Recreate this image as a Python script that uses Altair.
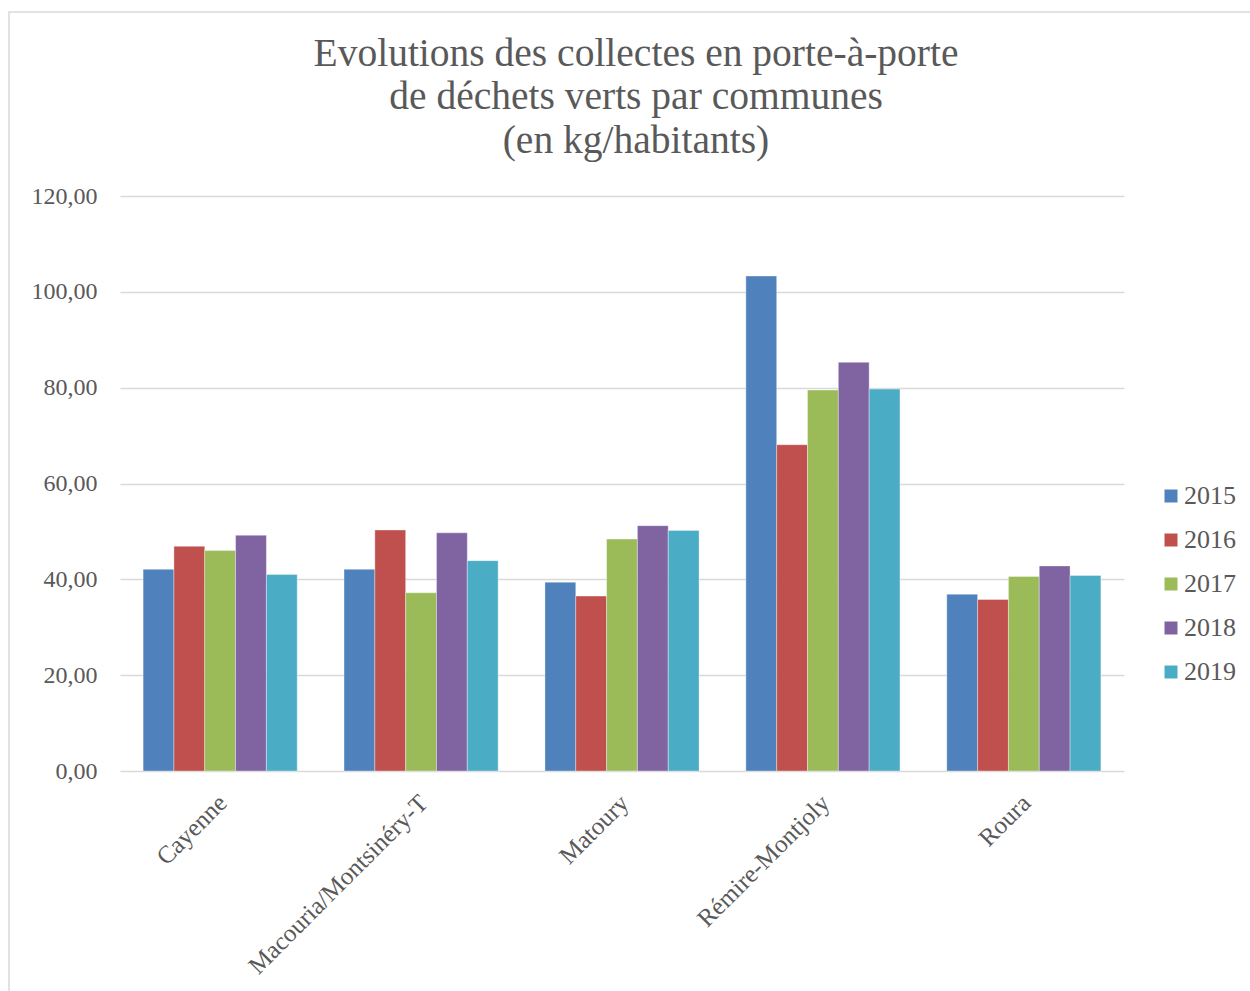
import altair as alt
import pandas as pd

communes = ["Cayenne", "Macouria/Montsinéry-T", "Matoury", "Rémire-Montjoly", "Roura"]
years = ["2015", "2016", "2017", "2018", "2019"]
v2015 = [42.1, 42.1, 39.4, 103.3, 36.9]
v2016 = [46.9, 50.3, 36.5, 68.1, 35.8]
v2017 = [46.0, 37.2, 48.4, 79.5, 40.6]
v2018 = [49.2, 49.7, 51.2, 85.3, 42.8]
v2019 = [41.0, 43.9, 50.2, 79.7, 40.8]
colors = ["#4F81BD", "#C0504D", "#9BBB59", "#8064A2", "#4BACC6"]
y_ticks = [0, 20, 40, 60, 80, 100, 120]
title_lines = ["Evolutions des collectes en porte-à-porte",
               "de déchets verts par communes",
               "(en kg/habitants)"]

series = [v2015, v2016, v2017, v2018, v2019]
rows = []
for yr, vals in zip(years, series):
    for c, v in zip(communes, vals):
        rows.append({"commune": c, "year": yr, "value": v})
df = pd.DataFrame(rows)

FONT = "Liberation Serif"
GREY = "#595959"

bars = alt.Chart(df).mark_bar(stroke="white", strokeWidth=0.6, strokeOpacity=0.6).encode(
    x=alt.X("commune:N", sort=communes,
            scale=alt.Scale(paddingInner=0.233, paddingOuter=0.115),
            axis=alt.Axis(title=None, labelAngle=-45, labelFontSize=25, labelColor=GREY,
                          labelFont=FONT, labelPadding=19, labelOffset=-6, ticks=False,
                          domain=False, labelAlign="right", labelBaseline="top",
                          labelLimit=0)),
    xOffset=alt.XOffset("year:N", sort=years),
    y=alt.Y("value:Q", scale=alt.Scale(domain=[0, 120]),
            axis=alt.Axis(title=None, values=y_ticks, labelFontSize=24, labelColor=GREY,
                          labelFont=FONT, labelPadding=23, ticks=False, domain=False,
                          gridColor="#D9D9D9", gridWidth=1.5,
                          labelExpr="replace(format(datum.value, '.2f'), '.', ',')")),
    color=alt.Color("year:N", sort=years,
                    scale=alt.Scale(domain=years, range=colors),
                    legend=alt.Legend(title=None, orient="none", legendX=1038, legendY=287,
                                      symbolType="square", symbolSize=169,
                                      symbolStrokeWidth=0, labelFontSize=26,
                                      labelFont=FONT, labelColor=GREY, rowPadding=18,
                                      labelOffset=0)),
)

border = alt.Chart(pd.DataFrame({"a": [0]})).mark_rect(
    fill=None, stroke="#D9D9D9", strokeWidth=1.5).encode(
    x=alt.value(-111), x2=alt.value(1140), y=alt.value(-184), y2=alt.value(800))

chart = alt.layer(border, bars).properties(
    width=1004, height=575,
    background="white",
    title=alt.TitleParams(text=title_lines, font=FONT, fontSize=39.5, fontWeight="normal",
                          color=GREY, anchor="middle", lineHeight=43.5, offset=-150, dx=14),
    autosize=alt.AutoSizeParams(type="none"),
    padding={"left": 120, "top": 196, "right": 126, "bottom": 220},
).configure_view(stroke=None)

chart.save("out.html", embed_options={"renderer": "svg", "actions": False})
